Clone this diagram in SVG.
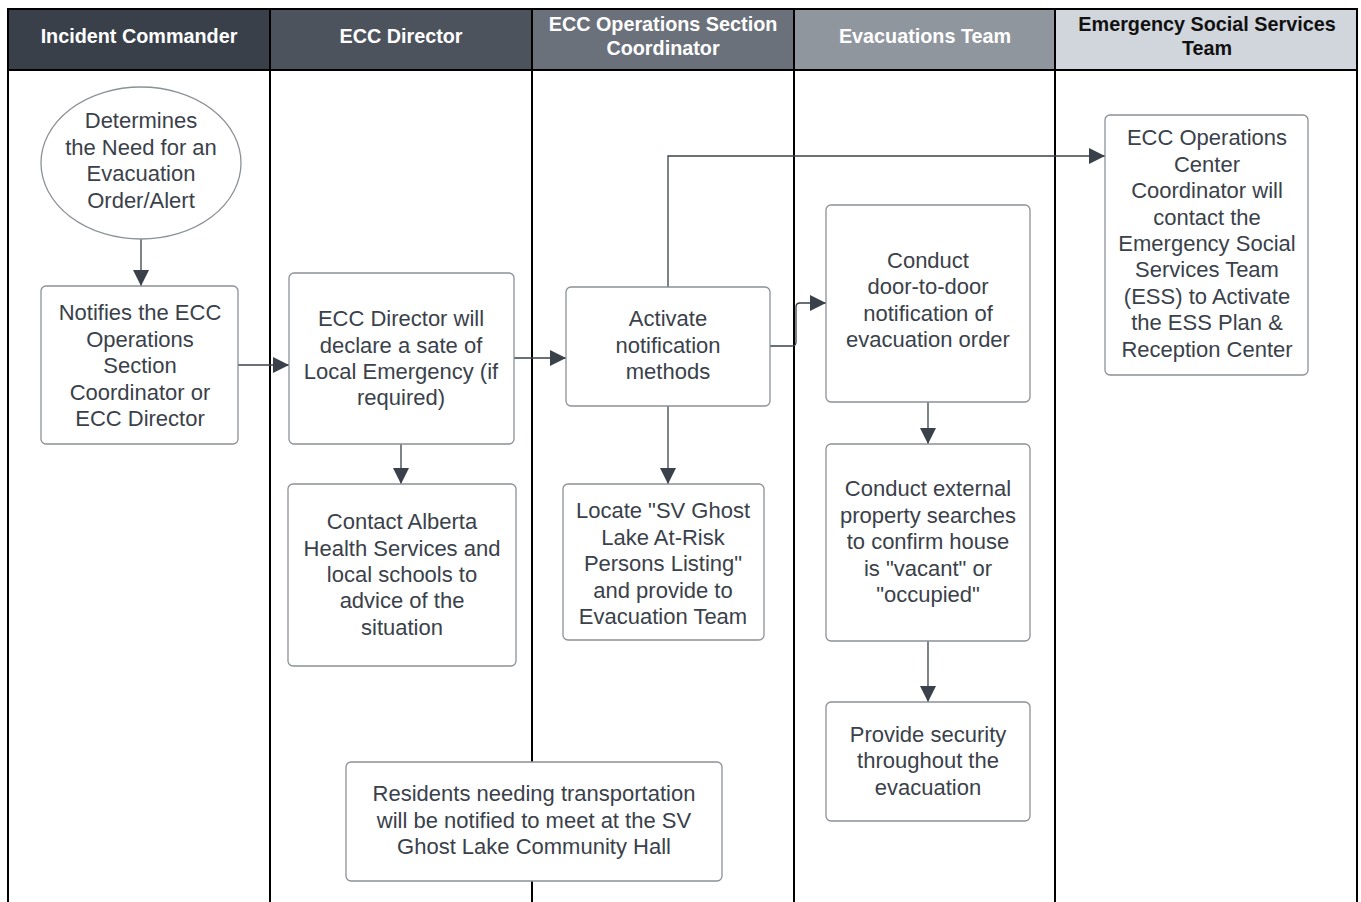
<svg xmlns="http://www.w3.org/2000/svg" width="1361" height="902" viewBox="0 0 1361 902">
<defs>
<style>
.hd{font-family:"Liberation Sans",Arial,sans-serif;font-size:19.8px;font-weight:bold;text-anchor:middle}
.t{font-family:"Liberation Sans",Arial,sans-serif;font-size:22px;fill:#3a414a;text-anchor:middle}
.box{fill:#ffffff;stroke:#8c9197;stroke-width:1.3}
.lane{stroke:#000;stroke-width:2;fill:none}
.c{stroke:#3a414a;stroke-width:1.3;fill:none;marker-end:url(#ah)}
</style>
<marker id="ah" viewBox="0 0 10 10" refX="10" refY="5" markerWidth="16" markerHeight="16" markerUnits="userSpaceOnUse" orient="auto">
<path d="M0,0 L10,5 L0,10 z" fill="#3a414a"/>
</marker>
</defs>
<rect width="1361" height="902" fill="#ffffff"/>
<g id="lanes">
<rect x="8" y="9" width="262" height="61" fill="#3a404a"/>
<rect x="270" y="9" width="262" height="61" fill="#4d535d"/>
<rect x="532" y="9" width="262" height="61" fill="#6b717b"/>
<rect x="794" y="9" width="261" height="61" fill="#90969e"/>
<rect x="1055" y="9" width="302" height="61" fill="#d1d6dd"/>
<line class="lane" x1="7" y1="9" x2="1358" y2="9"/>
<line class="lane" x1="7" y1="70" x2="1358" y2="70"/>
<line class="lane" x1="8" y1="8" x2="8" y2="902"/>
<line class="lane" x1="270" y1="8" x2="270" y2="902"/>
<line class="lane" x1="532" y1="8" x2="532" y2="902"/>
<line class="lane" x1="794" y1="8" x2="794" y2="902"/>
<line class="lane" x1="1055" y1="8" x2="1055" y2="902"/>
<line class="lane" x1="1357" y1="8" x2="1357" y2="902"/>
<text class="hd" x="139" y="43" fill="#ffffff">Incident Commander</text>
<text class="hd" x="401" y="43" fill="#ffffff">ECC Director</text>
<text class="hd" x="663" y="31" fill="#ffffff">ECC Operations Section</text>
<text class="hd" x="663" y="55" fill="#ffffff">Coordinator</text>
<text class="hd" x="925" y="43" fill="#ffffff">Evacuations Team</text>
<text class="hd" x="1207" y="31" fill="#111111">Emergency Social Services</text>
<text class="hd" x="1207" y="55" fill="#111111">Team</text>
</g>
<g id="connectors">
<path class="c" d="M141,239 L141,286"/>
<path class="c" d="M238,365 L289,365"/>
<path class="c" d="M514,358 L566,358"/>
<path class="c" d="M401,444 L401,484"/>
<path class="c" d="M668,406 L668,484"/>
<path class="c" d="M668,287 L668,156 L1105,156"/>
<path class="c" d="M770,346 L792,346 Q796,346 796,342 L796,307 Q796,303 800,303 L826,303"/>
<path class="c" d="M928,402 L928,444"/>
<path class="c" d="M928,641 L928,702"/>
</g>
<g id="n-determine">
<ellipse class="box" cx="141" cy="163" rx="100" ry="76"/>
<text class="t" x="141" y="128">Determines</text>
<text class="t" x="141" y="155">the Need for an</text>
<text class="t" x="141" y="181">Evacuation</text>
<text class="t" x="141" y="208">Order/Alert</text>
</g>
<g id="n-notify">
<rect class="box" x="41" y="286" width="197" height="158" rx="5"/>
<text class="t" x="140" y="320">Notifies the ECC</text>
<text class="t" x="140" y="347">Operations</text>
<text class="t" x="140" y="373">Section</text>
<text class="t" x="140" y="400">Coordinator or</text>
<text class="t" x="140" y="426">ECC Director</text>
</g>
<g id="n-declare">
<rect class="box" x="289" y="273" width="225" height="171" rx="5"/>
<text class="t" x="401" y="326">ECC Director will</text>
<text class="t" x="401" y="353">declare a sate of</text>
<text class="t" x="401" y="379">Local Emergency (if</text>
<text class="t" x="401" y="405">required)</text>
</g>
<g id="n-contact">
<rect class="box" x="288" y="484" width="228" height="182" rx="5"/>
<text class="t" x="402" y="529">Contact Alberta</text>
<text class="t" x="402" y="556">Health Services and</text>
<text class="t" x="402" y="582">local schools to</text>
<text class="t" x="402" y="608">advice of the</text>
<text class="t" x="402" y="635">situation</text>
</g>
<g id="n-activate">
<rect class="box" x="566" y="287" width="204" height="119" rx="5"/>
<text class="t" x="668" y="326">Activate</text>
<text class="t" x="668" y="353">notification</text>
<text class="t" x="668" y="379">methods</text>
</g>
<g id="n-locate">
<rect class="box" x="563" y="484" width="201" height="156" rx="5"/>
<text class="t" x="663" y="518">Locate "SV Ghost</text>
<text class="t" x="663" y="545">Lake At-Risk</text>
<text class="t" x="663" y="571">Persons Listing"</text>
<text class="t" x="663" y="598">and provide to</text>
<text class="t" x="663" y="624">Evacuation Team</text>
</g>
<g id="n-door">
<rect class="box" x="826" y="205" width="204" height="197" rx="5"/>
<text class="t" x="928" y="268">Conduct</text>
<text class="t" x="928" y="294">door-to-door</text>
<text class="t" x="928" y="321">notification of</text>
<text class="t" x="928" y="347">evacuation order</text>
</g>
<g id="n-external">
<rect class="box" x="826" y="444" width="204" height="197" rx="5"/>
<text class="t" x="928" y="496">Conduct external</text>
<text class="t" x="928" y="523">property searches</text>
<text class="t" x="928" y="549">to confirm house</text>
<text class="t" x="928" y="576">is "vacant" or</text>
<text class="t" x="928" y="602">"occupied"</text>
</g>
<g id="n-security">
<rect class="box" x="826" y="702" width="204" height="119" rx="5"/>
<text class="t" x="928" y="742">Provide security</text>
<text class="t" x="928" y="768">throughout the</text>
<text class="t" x="928" y="795">evacuation</text>
</g>
<g id="n-ess">
<rect class="box" x="1105" y="115" width="203" height="260" rx="5"/>
<text class="t" x="1207" y="145">ECC Operations</text>
<text class="t" x="1207" y="172">Center</text>
<text class="t" x="1207" y="198">Coordinator will</text>
<text class="t" x="1207" y="225">contact the</text>
<text class="t" x="1207" y="251">Emergency Social</text>
<text class="t" x="1207" y="277">Services Team</text>
<text class="t" x="1207" y="304">(ESS) to Activate</text>
<text class="t" x="1207" y="330">the ESS Plan &amp;</text>
<text class="t" x="1207" y="357">Reception Center</text>
</g>
<g id="n-residents">
<rect class="box" x="346" y="762" width="376" height="119" rx="5"/>
<text class="t" x="534" y="801">Residents needing transportation</text>
<text class="t" x="534" y="828">will be notified to meet at the SV</text>
<text class="t" x="534" y="854">Ghost Lake Community Hall</text>
</g>
</svg>
